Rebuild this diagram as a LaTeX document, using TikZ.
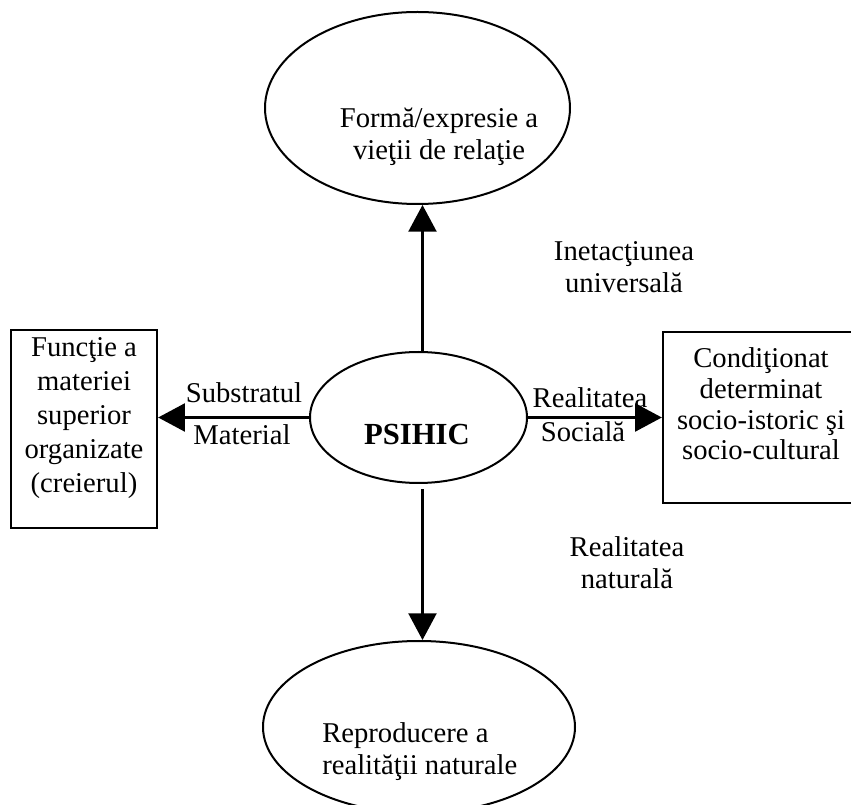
\documentclass[tikz,border=0pt]{standalone}
\usepackage{fontspec}
\setmainfont{Liberation Serif}
\usetikzlibrary{arrows.meta,shapes.geometric}

\tikzset{
    bubble/.style={draw, ellipse, line width=1.5pt, inner sep=0pt},
    frame/.style={draw, rectangle, line width=1.8pt, inner sep=0pt},
    link/.style={line width=1.6pt, -{Triangle[width=21pt,length=20pt]}},
    txt/.style={font=\fontsize{21.5}{24}\selectfont, align=center, inner sep=0pt},
}

\begin{document}
\begin{tikzpicture}[x=0.75pt,y=-0.75pt]

    \clip (0,0) rectangle (851,805);

    % Ellipses and boxes
    \node[bubble, minimum width=228.75pt, minimum height=144pt] (forma) at (417.5,108) {};
    \node[bubble, minimum width=162.75pt, minimum height=98.25pt] (psihic) at (418.5,417.5) {};
    \node[bubble, minimum width=234pt, minimum height=129pt] (reproducere) at (419,727) {};
    \node[frame, minimum width=109.5pt, minimum height=148.5pt] (functie) at (84,429) {};
    \node[frame, minimum width=147pt, minimum height=128.25pt] (social) at (761,417.5) {};

    % Texts inside
    \node[txt] (formatxt) at (439,137) {Formă/expresie a\\vieţii de relaţie};
    \node[txt, font=\fontsize{23}{24}\selectfont\bfseries, anchor=base] (psihictxt) at (417,445) {PSIHIC};
    \node[txt, align=left, anchor=west] (reprotxt) at (322,752) {Reproducere a\\realităţii naturale};
    \node[txt, font=\fontsize{21.5}{25.5}\selectfont] (functietxt) at (84,418) {Funcţie a\\materiei\\superior\\organizate\\(creierul)};
    \node[txt, font=\fontsize{21.5}{23}\selectfont] (socialtxt) at (761,404) {Condiţionat\\determinat\\socio-istoric şi\\socio-cultural};

    % Arrows
    \draw[link] ([xshift=3pt]psihic.north) -- ([xshift=3pt]psihic.north |- forma.south);
    \draw[link, shorten <=4pt] ([xshift=3pt]psihic.south) -- ([xshift=3pt]psihic.south |- reproducere.north);
    \draw[link] (psihic.west) -- (psihic.west -| functie.east);
    \draw[link] (psihic.east) -- (psihic.east -| social.west);

    % Arrow labels
    \node[txt, anchor=base] (substrat) at (244,403) {Substratul};
    \node[txt, anchor=base] (material) at (242,445) {Material};
    \node[txt, anchor=base] (realsoc) at (590,408) {Realitatea};
    \node[txt, anchor=base] (sociala) at (583,442) {Socială};
    \node[txt] (interact) at (624,267) {Inetacţiunea\\universală};
    \node[txt] (realnat) at (627,563) {Realitatea\\naturală};

\end{tikzpicture}
\end{document}
